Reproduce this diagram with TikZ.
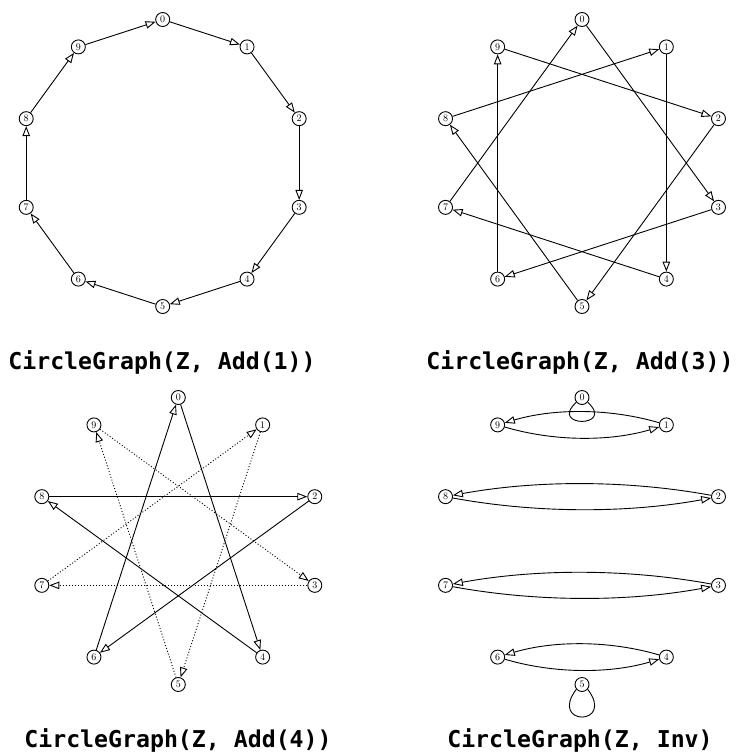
\documentclass[tikz,border=0pt]{standalone}
\usepackage{fontspec}
\newfontfamily\capfont{DejaVu Sans Mono}
\usetikzlibrary{arrows.meta,calc}
\tikzset{
  vtx/.style={circle, draw, line width=0.9pt, inner sep=0pt, minimum size=14pt,
    font=\fontsize{10}{11}\selectfont},
  arr/.style={line width=0.9pt, -{Triangle[open, length=10pt, width=7.5pt]}},
  dotarr/.style={arr, dash pattern=on 1pt off 2pt},
  lp/.style={line width=0.9pt},
  captxt/.style={anchor=base, inner sep=0pt,
    font=\capfont\bfseries\fontsize{23.2}{26}\selectfont}
}
\begin{document}
\begin{tikzpicture}[x=1pt, y=-1pt]
\useasboundingbox (0,0) rectangle (737,753);
% panel centres
\coordinate (P1) at (162.7,163);
\coordinate (P2) at (582,163);
\coordinate (P3) at (178.3,541);
\coordinate (P4) at (582,541);
\foreach \k in {0,...,9} {
  \node[vtx] (a\k) at ($(P1)+(36*\k-90:143.5)$) {\k};
  \node[vtx] (b\k) at ($(P2)+(36*\k-90:143.5)$) {\k};
  \node[vtx] (c\k) at ($(P3)+(36*\k-90:143.5)$) {\k};
  \node[vtx] (d\k) at ($(P4)+(36*\k-90:143.5)$) {\k};
}
% Add(1)
\foreach \k in {0,...,9} {
  \pgfmathtruncatemacro\j{mod(\k+1,10)}
  \draw[arr] (a\k) -- (a\j);
}
% Add(3)
\foreach \k in {0,...,9} {
  \pgfmathtruncatemacro\j{mod(\k+3,10)}
  \draw[arr] (b\k) -- (b\j);
}
% Add(4)
\foreach \k in {0,2,...,8} {
  \pgfmathtruncatemacro\j{mod(\k+4,10)}
  \draw[arr] (c\k) -- (c\j);
}
\foreach \k in {1,3,...,9} {
  \pgfmathtruncatemacro\j{mod(\k+4,10)}
  \draw[dotarr] (c\k) -- (c\j);
}
% Inv
\foreach \r/\l/\L in {1/9/169.2, 2/8/273, 3/7/273, 4/6/169.2} {
  \draw[arr] (d\r) .. controls +(-\L/3,-16.7) and +(\L/3,-16.7) .. (d\l);
  \draw[arr] (d\l) .. controls +(\L/3,16.7) and +(-\L/3,16.7) .. (d\r);
}
\draw[lp] (d0.-140) .. controls +(-28,25.5) and +(28,25.5) .. (d0.-40);
\draw[lp] (d5.-140) .. controls +(-28,37) and +(28,37) .. (d5.-40);
% captions
\node[captxt] (t1) at (162,369) {CircleGraph(Z, Add(1))};
\node[captxt] (t2) at (580,369) {CircleGraph(Z, Add(3))};
\node[captxt] (t3) at (178,747) {CircleGraph(Z, Add(4))};
\node[captxt] (t4) at (580,747) {CircleGraph(Z, Inv)};
\end{tikzpicture}
\end{document}
